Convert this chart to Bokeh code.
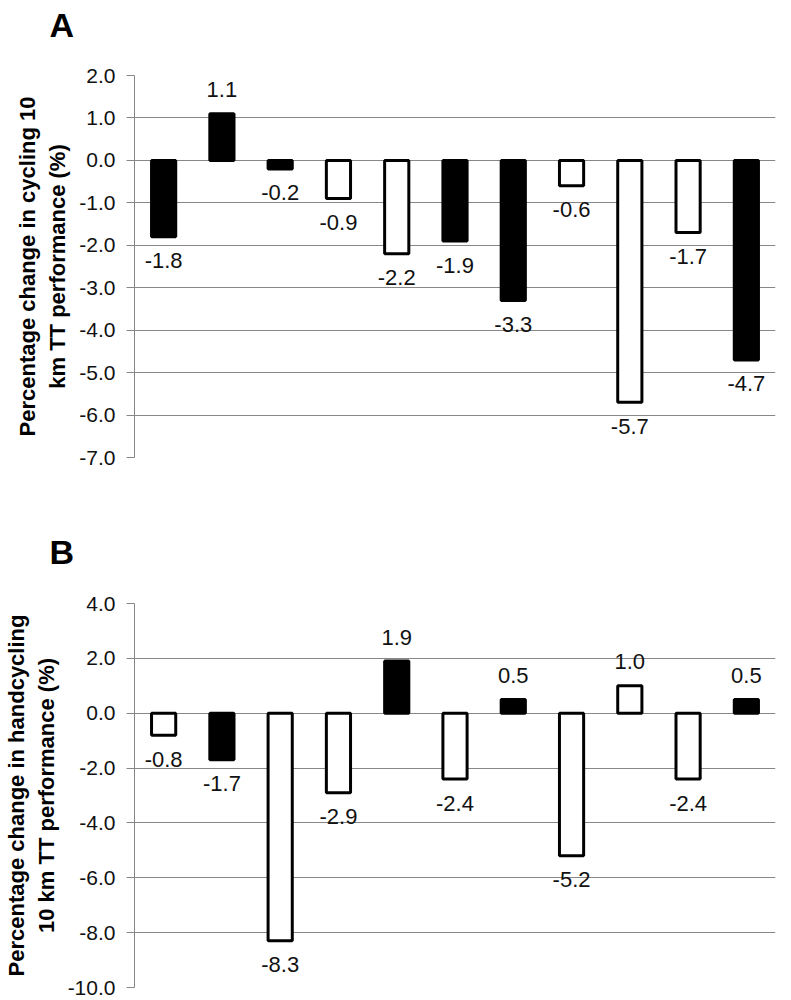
from bokeh.plotting import figure
from bokeh.models import FactorRange, Range1d, FixedTicker, ColumnDataSource, NumeralTickFormatter
from bokeh.layouts import column
from bokeh.transform import factor_cmap
from bokeh.embed import file_html
from bokeh.resources import INLINE
from bokeh.core.properties import value

# ---- data ----
participants = [str(i) for i in range(1, 12)]
cycling_change = [-1.8, 1.1, -0.2, -0.9, -2.2, -1.9, -3.3, -0.6, -5.7, -1.7, -4.7]
cycling_group = ["solid", "solid", "solid", "open", "open", "solid", "solid", "open", "open", "open", "solid"]
hand_change = [-0.8, -1.7, -8.3, -2.9, 1.9, -2.4, 0.5, -5.2, 1.0, -2.4, 0.5]
hand_group = ["open", "solid", "open", "open", "solid", "open", "solid", "open", "open", "open", "solid"]
cycling_ticks = [-7, -6, -5, -4, -3, -2, -1, 0, 1, 2]
hand_ticks = [-10, -8, -6, -4, -2, 0, 2, 4]
panel_letters = ["A", "B"]

FONT = "Liberation Sans"
GRID = "#878787"


def letter_strip(letter, height):
    # a thin empty figure whose title carries the panel letter
    s = figure(width=791, height=height, x_range=Range1d(0, 1), y_range=Range1d(0, 1),
               output_backend="svg", toolbar_location=None,
               min_border_left=133, min_border_right=16, min_border_top=0, min_border_bottom=0)
    s.axis.visible = False
    s.grid.visible = False
    s.outline_line_color = None
    s.title.text = letter
    s.title.text_font = FONT
    s.title.text_font_size = "34px"
    s.title.text_font_style = "bold"
    s.title.text_color = "#000000"
    s.title.align = "left"
    s.title.offset = -85
    s.title.standoff = 7
    return s


def panel(ylabel, vals, groups, ticks, height, top, bottom, right):
    p = figure(width=791, height=height, x_range=FactorRange(*participants),
               y_range=Range1d(ticks[0], ticks[-1]), output_backend="svg",
               toolbar_location=None, min_border_left=133, min_border_right=right,
               min_border_top=top, min_border_bottom=bottom)
    p.outline_line_color = None
    p.xaxis.visible = False
    p.xgrid.visible = False
    p.ygrid.grid_line_color = GRID
    p.ygrid.grid_line_width = 1
    ya = p.yaxis[0]
    ya.ticker = FixedTicker(ticks=ticks)
    ya.formatter = NumeralTickFormatter(format="0.0")
    ya.axis_line_color = GRID
    ya.major_tick_line_color = GRID
    ya.major_tick_out = 8
    ya.major_tick_in = 0
    ya.minor_tick_line_color = None
    ya.major_label_text_font = FONT
    ya.major_label_text_font_size = "21px"
    ya.major_label_text_color = "#111111"
    ya.major_label_standoff = 11
    ya.axis_label = ylabel
    ya.axis_label_text_font = FONT
    ya.axis_label_text_font_style = "bold"
    ya.axis_label_text_font_size = "22px"
    ya.axis_label_text_color = "#000000"
    ya.axis_label_standoff = 6

    src = ColumnDataSource(dict(x=participants, y=vals, g=groups))
    p.vbar(x="x", top="y", bottom=0, width=0.415, source=src,
           fill_color=factor_cmap("g", ["#000000", "#ffffff"], ["solid", "open"]),
           line_color="#000000", line_width=3)

    pos = ColumnDataSource(dict(x=[x for x, v in zip(participants, vals) if v >= 0],
                                y=[v for v in vals if v >= 0],
                                lab=["%.1f" % v for v in vals if v >= 0]))
    neg = ColumnDataSource(dict(x=[x for x, v in zip(participants, vals) if v < 0],
                                y=[v for v in vals if v < 0],
                                lab=["%.1f" % v for v in vals if v < 0]))
    p.text(x="x", y="y", text="lab", source=pos, text_align="center",
           text_baseline="alphabetic", y_offset=-24, text_font=value(FONT),
           text_font_size="22px", text_color="#111111")
    p.text(x="x", y="y", text="lab", source=neg, text_align="center",
           text_baseline="alphabetic", y_offset=24, text_font=value(FONT),
           text_font_size="22px", text_color="#111111")
    return p


sA = letter_strip(panel_letters[0], 55)
pA = panel("Percentage change in cycling 10\nkm TT performance (%)",
           cycling_change, cycling_group, cycling_ticks, 472, 20, 70, 16)
sB = letter_strip(panel_letters[1], 55)
pB = panel("Percentage change in handcycling\n10 km TT performance (%)",
           hand_change, hand_group, hand_ticks, 418, 21, 13, 9)

layout = column(sA, pA, sB, pB, spacing=0)
open("out.html", "w").write(file_html(layout, INLINE))
